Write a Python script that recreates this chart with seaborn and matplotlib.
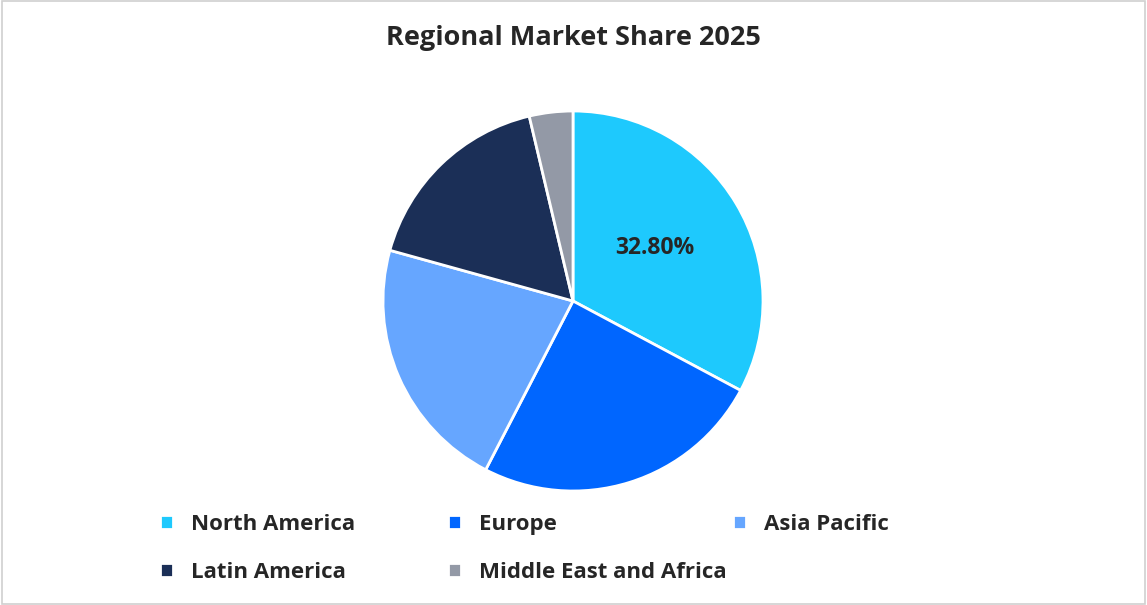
import matplotlib
matplotlib.use("Agg")
import matplotlib.pyplot as plt
import seaborn as sns
import numpy as np
from matplotlib.patches import Rectangle

sns.set_theme(style="white")
plt.rcParams['font.family'] = ['Open Sans', 'DejaVu Sans']

regions = ["North America", "Europe", "Asia Pacific", "Latin America", "Middle East and Africa"]
shares = [32.8, 24.8, 21.7, 17.0, 3.7]
colors = ["#1EC9FD", "#0066FF", "#66A6FF", "#1B2F57", "#9399A6"]

fig = plt.figure(figsize=(11.47, 6.05), dpi=100)
fig.patches.append(Rectangle((0.002, 0.002), 0.996, 0.996, transform=fig.transFigure,
                             fill=False, edgecolor="#D0D0D0", linewidth=1.2))
r_px = 190
cx, cy = 573, 605 - 301
ax = fig.add_axes([(cx - r_px) / 1147, (cy - r_px) / 605, 2 * r_px / 1147, 2 * r_px / 605])

wedges, texts = ax.pie(shares, colors=colors, startangle=90, counterclock=False,
                       wedgeprops=dict(edgecolor="white", linewidth=2))
ax.set_xlim(-1, 1)
ax.set_ylim(-1, 1)
ax.set_aspect("equal")
ang = 90 - shares[0] / 100 * 360 / 2
ax.text(0.5 * np.cos(np.radians(ang)), 0.5 * np.sin(np.radians(ang)) + 0.02, f"{shares[0]:.2f}%",
        ha="center", va="center", fontsize=16.5, fontweight="bold", color="#262626")

fig.text(0.5, 0.937, "Regional Market Share 2025", ha="center", va="center",
         fontsize=19.5, fontweight="bold", color="#262626")

cols = [[0, 3], [1, 4], [2]]
xs = [160, 448, 733]
for col, x in zip(cols, xs):
    leg = fig.legend([wedges[i] for i in col], [regions[i] for i in col], loc="upper left",
                     bbox_to_anchor=(x / 1147, 1 - 514 / 605), frameon=False, fontsize=16,
                     handlelength=0.6, handleheight=0.6, handletextpad=0.8, labelspacing=1.22,
                     borderaxespad=0, borderpad=0)
    for t in leg.get_texts():
        t.set_fontweight("bold")
        t.set_color("#262626")

fig.savefig("out.png", dpi=100)
